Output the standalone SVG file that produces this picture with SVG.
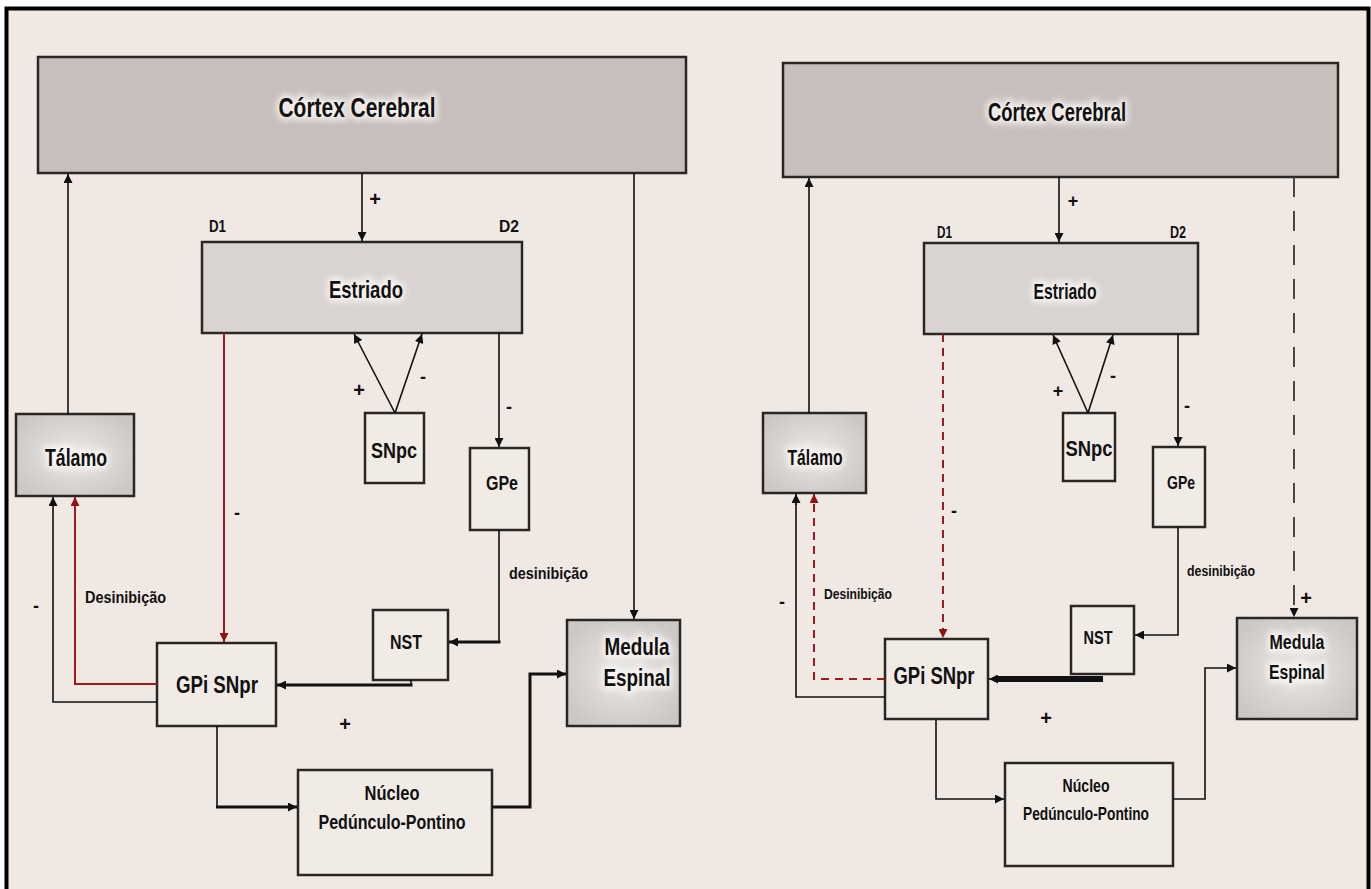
<svg xmlns="http://www.w3.org/2000/svg" width="1371" height="889" viewBox="0 0 1371 889">
<defs>
<style>
.bg{fill:#f0e8e2}
.box{stroke:#2a2624;stroke-width:2.5}
.gray{fill:#c7bfbb}
.light{fill:#d9d4d1}
.white{fill:#f1ebe6}
.t{font-family:"Liberation Sans",Arial,sans-serif;font-weight:bold;fill:#111;text-anchor:middle}
.halo{fill:#fbf8f5;stroke:#fbf8f5;stroke-width:7;stroke-linejoin:round;opacity:0.85}
.lbl{font-family:"Liberation Sans",Arial,sans-serif;font-weight:bold;fill:#111}
.c{fill:none;stroke:#111;stroke-width:1.6}
.thick{stroke-width:3}
.vthick{stroke-width:6}
.red{fill:none;stroke:#a3191b;stroke-width:2}
.dash{stroke-dasharray:8 6}
.gdash{fill:none;stroke:#4a4644;stroke-width:2;stroke-dasharray:20 14}
</style>
<marker id="a" viewBox="0 0 10 10" refX="10" refY="5" markerWidth="11" markerHeight="9" markerUnits="userSpaceOnUse" orient="auto"><path d="M0,0 L10,5 L0,10 z" fill="#111"/></marker>
<marker id="ar" viewBox="0 0 10 10" refX="10" refY="5" markerWidth="11" markerHeight="9" markerUnits="userSpaceOnUse" orient="auto"><path d="M0,0 L10,5 L0,10 z" fill="#8e1416"/></marker>
<radialGradient id="tg" cx="0.5" cy="0.5" r="0.6"><stop offset="0" stop-color="#ece8e5"/><stop offset="0.6" stop-color="#d8d4d1"/><stop offset="1" stop-color="#cbc7c4"/></radialGradient>
<filter id="blur" x="-30%" y="-60%" width="160%" height="220%"><feGaussianBlur stdDeviation="3"/></filter>
</defs>
<rect x="0" y="0" width="1371" height="889" fill="#ffffff"/>
<rect x="7" y="9" width="1361" height="882" class="bg"/>
<path d="M6.5,892 V8.5 H1368.5 V892" fill="none" stroke="#000" stroke-width="4"/>

<!-- LEFT DIAGRAM -->
<g id="L-cortex"><rect x="38" y="57" width="648" height="116" class="box gray"/>
<text x="357" y="117" class="t halo" font-size="28" textLength="157" lengthAdjust="spacingAndGlyphs" filter="url(#blur)">Córtex Cerebral</text>
<text x="357" y="117" class="t" font-size="28" textLength="157" lengthAdjust="spacingAndGlyphs">Córtex Cerebral</text></g>
<g id="L-estriado"><rect x="202" y="242" width="320" height="91" class="box light"/>
<text x="366" y="298" class="t halo" font-size="24" textLength="74" lengthAdjust="spacingAndGlyphs" filter="url(#blur)">Estriado</text>
<text x="366" y="298" class="t" font-size="24" textLength="74" lengthAdjust="spacingAndGlyphs">Estriado</text></g>
<g id="L-talamo"><rect x="16" y="414" width="118" height="82" class="box" fill="url(#tg)"/>
<text x="76" y="466" class="t halo" font-size="24" textLength="62" lengthAdjust="spacingAndGlyphs" filter="url(#blur)">Tálamo</text>
<text x="76" y="466" class="t" font-size="24" textLength="62" lengthAdjust="spacingAndGlyphs">Tálamo</text></g>
<g id="L-snpc"><rect x="365" y="413" width="59" height="70" class="box white"/><text x="394" y="458" class="t" font-size="22" textLength="46" lengthAdjust="spacingAndGlyphs">SNpc</text></g>
<g id="L-gpe"><rect x="470" y="448" width="59" height="82" class="box white"/><text x="502" y="490" class="t" font-size="20" textLength="32" lengthAdjust="spacingAndGlyphs">GPe</text></g>
<g id="L-nst"><rect x="373" y="610" width="75" height="70" class="box white"/><text x="406" y="649" class="t" font-size="20" textLength="32" lengthAdjust="spacingAndGlyphs">NST</text></g>
<g id="L-gpi"><rect x="157" y="643" width="119" height="83" class="box white"/><text x="217" y="693" class="t" font-size="23" textLength="82" lengthAdjust="spacingAndGlyphs">GPi SNpr</text></g>
<g id="L-medula"><rect x="567" y="620" width="113" height="106" class="box" fill="url(#tg)"/>
<text x="637" y="655" class="t halo" font-size="23" textLength="65" lengthAdjust="spacingAndGlyphs" filter="url(#blur)">Medula</text>
<text x="637" y="686" class="t halo" font-size="23" textLength="67" lengthAdjust="spacingAndGlyphs" filter="url(#blur)">Espinal</text>
<text x="637" y="655" class="t" font-size="23" textLength="65" lengthAdjust="spacingAndGlyphs">Medula</text>
<text x="637" y="686" class="t" font-size="23" textLength="67" lengthAdjust="spacingAndGlyphs">Espinal</text></g>
<g id="L-nucleo"><rect x="298" y="770" width="194" height="105" class="box white"/><text x="392" y="800" class="t" font-size="20" textLength="55" lengthAdjust="spacingAndGlyphs">Núcleo</text><text x="392" y="829" class="t" font-size="20" textLength="147" lengthAdjust="spacingAndGlyphs">Pedúnculo-Pontino</text></g>

<!-- RIGHT DIAGRAM -->
<g id="R-cortex"><rect x="783" y="63" width="555" height="114" class="box gray"/>
<text x="1057" y="121" class="t halo" font-size="26" textLength="138" lengthAdjust="spacingAndGlyphs" filter="url(#blur)">Córtex Cerebral</text>
<text x="1057" y="121" class="t" font-size="26" textLength="138" lengthAdjust="spacingAndGlyphs">Córtex Cerebral</text></g>
<g id="R-estriado"><rect x="924" y="243" width="274" height="91" class="box light"/>
<text x="1065" y="299" class="t halo" font-size="22" textLength="63" lengthAdjust="spacingAndGlyphs" filter="url(#blur)">Estriado</text>
<text x="1065" y="299" class="t" font-size="22" textLength="63" lengthAdjust="spacingAndGlyphs">Estriado</text></g>
<g id="R-talamo"><rect x="763" y="413" width="103" height="80" class="box" fill="url(#tg)"/>
<text x="815" y="465" class="t halo" font-size="22" textLength="55" lengthAdjust="spacingAndGlyphs" filter="url(#blur)">Tálamo</text>
<text x="815" y="465" class="t" font-size="22" textLength="55" lengthAdjust="spacingAndGlyphs">Tálamo</text></g>
<g id="R-snpc"><rect x="1063" y="413" width="52" height="68" class="box white"/><text x="1089" y="456" class="t" font-size="22" textLength="47" lengthAdjust="spacingAndGlyphs">SNpc</text></g>
<g id="R-gpe"><rect x="1153" y="447" width="52" height="80" class="box white"/><text x="1181" y="489" class="t" font-size="18" textLength="28" lengthAdjust="spacingAndGlyphs">GPe</text></g>
<g id="R-nst"><rect x="1071" y="606" width="63" height="68" class="box white"/><text x="1098" y="644" class="t" font-size="19" textLength="29" lengthAdjust="spacingAndGlyphs">NST</text></g>
<g id="R-gpi"><rect x="885" y="639" width="103" height="80" class="box white"/><text x="934" y="684" class="t" font-size="23" textLength="81" lengthAdjust="spacingAndGlyphs">GPi SNpr</text></g>
<g id="R-medula"><rect x="1237" y="618" width="120" height="101" class="box" fill="url(#tg)"/>
<text x="1297" y="649" class="t halo" font-size="21" textLength="55" lengthAdjust="spacingAndGlyphs" filter="url(#blur)">Medula</text>
<text x="1297" y="679" class="t halo" font-size="21" textLength="56" lengthAdjust="spacingAndGlyphs" filter="url(#blur)">Espinal</text>
<text x="1297" y="649" class="t" font-size="21" textLength="55" lengthAdjust="spacingAndGlyphs">Medula</text>
<text x="1297" y="679" class="t" font-size="21" textLength="56" lengthAdjust="spacingAndGlyphs">Espinal</text></g>
<g id="R-nucleo"><rect x="1005" y="763" width="168" height="103" class="box white"/><text x="1086" y="792" class="t" font-size="18" textLength="47" lengthAdjust="spacingAndGlyphs">Núcleo</text><text x="1086" y="820" class="t" font-size="18" textLength="126" lengthAdjust="spacingAndGlyphs">Pedúnculo-Pontino</text></g>

<g id="connectors">
<!-- left -->
<path class="c" d="M68,414 V174" marker-end="url(#a)"/>
<path class="c" d="M362,173 V241" marker-end="url(#a)"/>
<path class="c" d="M634,173 V619" marker-end="url(#a)"/>
<path class="c" d="M395,413 L354,334" marker-end="url(#a)"/>
<path class="c" d="M395,413 L422,334" marker-end="url(#a)"/>
<path class="c" d="M499,333 V447" marker-end="url(#a)"/>
<path class="c" d="M499,530 V642"/>
<path class="c thick" d="M500.5,642 H449" marker-end="url(#a)"/>
<path class="c" d="M411,680 V685"/>
<path class="c thick" d="M412.5,685 H277" marker-end="url(#a)"/>
<path class="red" d="M224,333 V642" marker-end="url(#ar)"/>
<path class="red" d="M157,684 H75 V497" marker-end="url(#ar)"/>
<path class="c" d="M157,702 H53 V497" marker-end="url(#a)"/>
<path class="c" d="M217,726 V807"/>
<path class="c thick" d="M216,807 H297" marker-end="url(#a)"/>
<path class="c thick" d="M492,807 H530 V674 H566" marker-end="url(#a)"/>
<!-- right -->
<path class="c" d="M809,413 V178" marker-end="url(#a)"/>
<path class="c" d="M1059,177 V242" marker-end="url(#a)"/>
<path class="gdash" d="M1294,177 V617" marker-end="url(#a)"/>
<path class="c" d="M1088,413 L1053,335" marker-end="url(#a)"/>
<path class="c" d="M1088,413 L1113,335" marker-end="url(#a)"/>
<path class="c" d="M1178,334 V446" stroke-width="2.6" marker-end="url(#a)"/>
<path class="c" d="M1178,527 V635 H1135" marker-end="url(#a)"/>
<path class="c vthick" d="M1103,679 H996"/>
<path class="c" d="M1000,679 H989" marker-end="url(#a)"/>
<path class="red dash" d="M943,334 V638" marker-end="url(#ar)"/>
<path class="red dash" d="M885,679 H814 V494" marker-end="url(#ar)"/>
<path class="c" d="M885,697 H796 V500" stroke-width="5"/>
<path class="c" d="M796,505 V494" marker-end="url(#a)"/>
<path class="c" d="M936,719 V799 H1004" marker-end="url(#a)"/>
<path class="c" d="M1173,799 H1205 V668 H1236" stroke-width="2.2" marker-end="url(#a)"/>
</g>

<g id="labels">
<text x="375" y="206" class="lbl" font-size="20" text-anchor="middle">+</text>
<text x="209" y="232" class="lbl" font-size="17" textLength="17" lengthAdjust="spacingAndGlyphs">D1</text>
<text x="499" y="232" class="lbl" font-size="17" textLength="20" lengthAdjust="spacingAndGlyphs">D2</text>
<text x="359" y="397" class="lbl" font-size="20" text-anchor="middle">+</text>
<text x="423" y="383" class="lbl" font-size="18" text-anchor="middle">-</text>
<text x="509" y="413" class="lbl" font-size="18" text-anchor="middle">-</text>
<text x="237" y="519" class="lbl" font-size="18" text-anchor="middle">-</text>
<text x="85" y="603" class="lbl" font-size="16" textLength="81" lengthAdjust="spacingAndGlyphs">Desinibição</text>
<text x="36" y="612" class="lbl" font-size="18" text-anchor="middle">-</text>
<text x="509" y="579" class="lbl" font-size="16" textLength="79" lengthAdjust="spacingAndGlyphs">desinibição</text>
<text x="345" y="731" class="lbl" font-size="20" text-anchor="middle">+</text>

<text x="1073" y="207" class="lbl" font-size="18" text-anchor="middle">+</text>
<text x="937" y="238" class="lbl" font-size="16" textLength="15" lengthAdjust="spacingAndGlyphs">D1</text>
<text x="1170" y="238" class="lbl" font-size="16" textLength="16" lengthAdjust="spacingAndGlyphs">D2</text>
<text x="1058" y="397" class="lbl" font-size="18" text-anchor="middle">+</text>
<text x="1113" y="382" class="lbl" font-size="18" text-anchor="middle">-</text>
<text x="1187" y="412" class="lbl" font-size="18" text-anchor="middle">-</text>
<text x="954" y="517" class="lbl" font-size="18" text-anchor="middle">-</text>
<text x="824" y="599" class="lbl" font-size="15" textLength="68" lengthAdjust="spacingAndGlyphs">Desinibição</text>
<text x="782" y="608" class="lbl" font-size="18" text-anchor="middle">-</text>
<text x="1187" y="576" class="lbl" font-size="15" textLength="68" lengthAdjust="spacingAndGlyphs">desinibição</text>
<text x="1306" y="605" class="lbl" font-size="20" text-anchor="middle">+</text>
<text x="1046" y="725" class="lbl" font-size="20" text-anchor="middle">+</text>
</g>
</svg>
